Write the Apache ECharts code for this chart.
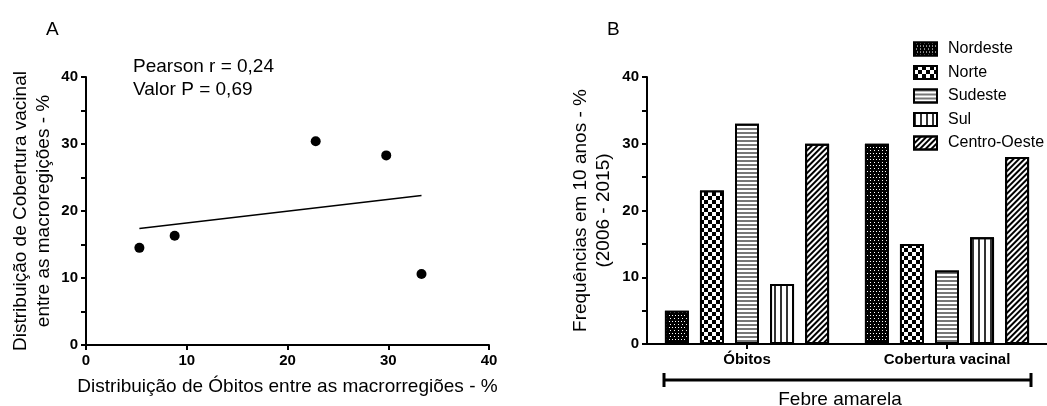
<!DOCTYPE html>
<html lang="pt">
<head>
<meta charset="UTF-8">
<title>Febre amarela - óbitos e cobertura vacinal</title>
<script src="https://cdn.jsdelivr.net/npm/echarts@6/dist/echarts.min.js"></script>
<style>
  html, body { margin: 0; padding: 0; background: #fff; }
  #chart { width: 1047px; height: 406px; }
</style>
</head>
<body>
<div id="chart"></div>
<script>
// painel A - dispersão
var obitosPct = [5.3, 8.8, 22.8, 29.8, 33.3];
var coberturaPct = [14.5, 16.3, 30.4, 28.3, 10.6];
var retaX = [5.3, 33.3];
var retaY = [17.4, 22.3];

// painel B - barras
var grupos = ['Óbitos', 'Cobertura vacinal'];
var regioes = ['Nordeste', 'Norte', 'Sudeste', 'Sul', 'Centro-Oeste'];
var nordeste = [5, 30];
var norte = [23, 15];
var sudeste = [33, 11];
var sul = [9, 16];
var centroOeste = [30, 28];

var FONT = '"Liberation Sans", Arial, sans-serif';

var pontos = obitosPct.map(function (x, i) { return [x, coberturaPct[i]]; });
var reta = retaX.map(function (x, i) { return [x, retaY[i]]; });

// padroes de preenchimento (estilo GraphPad)
var padroes = [
  { color: '#000', decal: { symbol: 'rect', symbolSize: 1, color: '#fff', dashArrayX: [[1, 2], [0, 1.5, 1, 0.5]], dashArrayY: [1, 1.5] } },
  { color: '#000', decal: { symbol: 'rect', symbolSize: 1, color: '#fff', dashArrayX: [[4, 4], [0, 4, 4, 0]], dashArrayY: [4, 0] } },
  { color: '#fff', decal: { symbol: 'rect', symbolSize: 1, color: '#777', dashArrayX: [1, 0], dashArrayY: [2, 2] } },
  { color: '#fff', decal: { symbol: 'rect', symbolSize: 1, color: '#333', dashArrayX: [1.5, 3.8], dashArrayY: [1, 0] } },
  { color: '#fff', decal: { symbol: 'rect', symbolSize: 1, color: '#000', dashArrayX: [1, 0], dashArrayY: [1.5, 1.5], rotation: -Math.PI / 4 } }
];
var valores = [nordeste, norte, sudeste, sul, centroOeste];

var eixoBase = {
  axisLine: { show: true, onZero: false, lineStyle: { color: '#000', width: 2 } },
  axisTick: { show: true, inside: false, length: 5, lineStyle: { color: '#000', width: 2 } },
  axisLabel: { color: '#000', fontWeight: 'bold', fontSize: 15, margin: 8, fontFamily: FONT },
  splitLine: { show: false },
  nameTextStyle: { color: '#000', fontSize: 19, fontFamily: FONT, lineHeight: 23.5 }
};

function eixo(extra) {
  var o = JSON.parse(JSON.stringify(eixoBase));
  for (var k in extra) o[k] = extra[k];
  return o;
}

var seriesBarras = regioes.map(function (nome, i) {
  return {
    name: nome,
    type: 'bar',
    xAxisIndex: 1,
    yAxisIndex: 1,
    barWidth: 24,
    barGap: '46%',
    data: valores[i],
    itemStyle: {
      color: padroes[i].color,
      decal: padroes[i].decal,
      borderColor: '#000',
      borderWidth: 2
    }
  };
});

var tituloTexto = { fontSize: 19, fontWeight: 'normal', color: '#000', fontFamily: FONT, lineHeight: 23 };

var myChart = echarts.init(document.getElementById('chart'));
var option = {
  animation: false,
  textStyle: { fontFamily: FONT },
  title: [
    { text: 'A', left: 46, top: 18, padding: 0, textStyle: tituloTexto },
    { text: 'Pearson r = 0,24\nValor P = 0,69', left: 133, top: 55, padding: 0, textStyle: tituloTexto },
    { text: 'B', left: 607, top: 18, padding: 0, textStyle: tituloTexto },
    { text: 'Febre amarela', left: 840, textAlign: 'center', top: 388, padding: 0, textStyle: tituloTexto }
  ],
  legend: {
    data: regioes,
    orient: 'vertical',
    left: 908,
    top: 36,
    icon: 'rect',
    itemWidth: 23,
    itemHeight: 13,
    itemGap: 7.5,
    itemStyle: { borderColor: '#000', borderWidth: 2 },
    textStyle: { fontSize: 16, color: '#000', fontFamily: FONT, lineHeight: 13, padding: [0, 0, 0, 6] }
  },
  grid: [
    { left: 86, top: 77, width: 403, height: 268 },
    { left: 647, top: 77, width: 400, height: 267 }
  ],
  xAxis: [
    eixo({ type: 'value', gridIndex: 0, min: 0, max: 40, interval: 10,
      name: 'Distribuição de Óbitos entre as macrorregiões - %', nameLocation: 'middle', nameGap: 30 }),
    eixo({ type: 'category', gridIndex: 1, data: grupos,
      axisTick: { show: true, alignWithLabel: true, length: 5, lineStyle: { color: '#000', width: 2 } } })
  ],
  yAxis: [
    eixo({ type: 'value', gridIndex: 0, min: 0, max: 40, interval: 10,
      minorTick: { show: true, splitNumber: 2, length: 5, lineStyle: { color: '#000', width: 2 } },
      name: 'Distribuição de Cobertura vacinal\nentre as macroregições - %', nameLocation: 'middle', nameGap: 30 }),
    eixo({ type: 'value', gridIndex: 1, min: 0, max: 40, interval: 10,
      minorTick: { show: true, splitNumber: 2, length: 5, lineStyle: { color: '#000', width: 2 } },
      name: 'Frequências em 10 anos - %\n(2006 - 2015)', nameLocation: 'middle', nameGap: 31 })
  ],
  series: [
    {
      type: 'scatter',
      xAxisIndex: 0,
      yAxisIndex: 0,
      symbolSize: 10,
      itemStyle: { color: '#000', opacity: 1 },
      data: pontos
    },
    {
      type: 'line',
      xAxisIndex: 0,
      yAxisIndex: 0,
      showSymbol: false,
      lineStyle: { color: '#000', width: 1.5 },
      data: reta
    }
  ].concat(seriesBarras),
  graphic: [
    { type: 'line', shape: { x1: 664, y1: 380, x2: 1031, y2: 380 }, style: { stroke: '#000', lineWidth: 3 } },
    { type: 'line', shape: { x1: 664, y1: 373, x2: 664, y2: 387 }, style: { stroke: '#000', lineWidth: 3 } },
    { type: 'line', shape: { x1: 1031, y1: 373, x2: 1031, y2: 387 }, style: { stroke: '#000', lineWidth: 3 } }
  ]
};
myChart.setOption(option);
</script>
</body>
</html>
